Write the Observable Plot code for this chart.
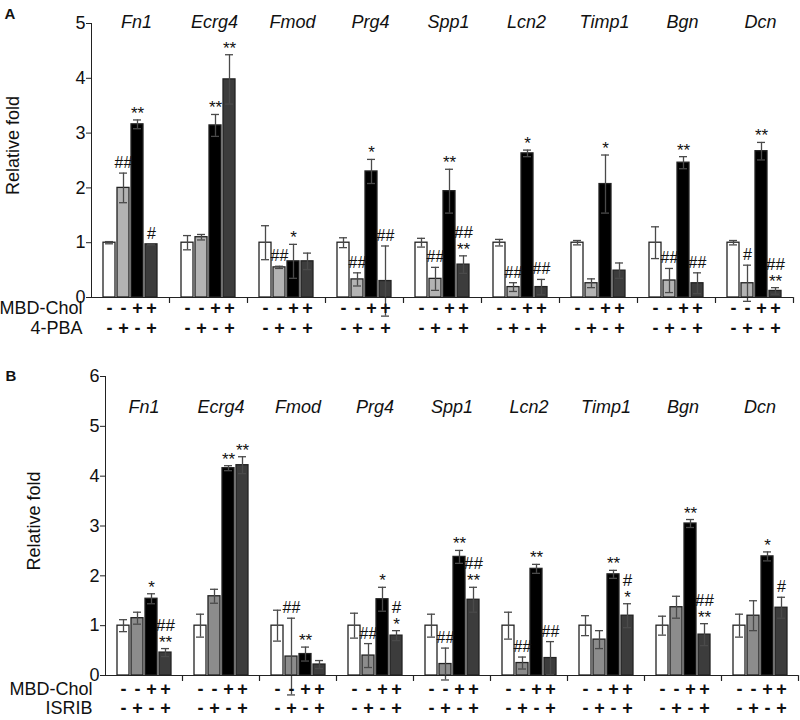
<!DOCTYPE html>
<html><head><meta charset="utf-8">
<script src="https://cdn.jsdelivr.net/npm/d3@7"></script>
<script src="https://cdn.jsdelivr.net/npm/@observablehq/plot@0.6"></script>
<style>
body{margin:0;background:#fff;font-family:"Liberation Sans",Arial,sans-serif;}
#chart svg{display:block}
</style></head><body><div id="chart"></div>
<script>
const genes = ["Fn1","Ecrg4","Fmod","Prg4","Spp1","Lcn2","Timp1","Bgn","Dcn"];
const treatments = [0, 1, 2, 3];
const rowMBD = ["-", "-", "+", "+"];
const rowDrug = ["-", "+", "-", "+"];

// Panel A (4-PBA)
const aMeans = [
  [1.0, 2.0, 3.16, 0.97],
  [1.0, 1.1, 3.14, 3.98],
  [1.0, 0.55, 0.66, 0.66],
  [1.0, 0.33, 2.3, 0.3],
  [1.0, 0.34, 1.94, 0.6],
  [1.0, 0.19, 2.63, 0.19],
  [1.0, 0.26, 2.07, 0.49],
  [1.0, 0.31, 2.46, 0.26],
  [1.0, 0.26, 2.67, 0.12]
];
const aErr = [
  [0.02, 0.27, 0.08, 0.01],
  [0.13, 0.05, 0.2, 0.45],
  [0.31, 0.02, 0.31, 0.15],
  [0.09, 0.12, 0.22, 0.64],
  [0.08, 0.21, 0.4, 0.16],
  [0.06, 0.08, 0.06, 0.14],
  [0.04, 0.08, 0.53, 0.14],
  [0.29, 0.22, 0.11, 0.19],
  [0.04, 0.33, 0.16, 0.06]
];
const aMarks = [
  ["", "##", "**", "#"],
  ["", "", "**", "**"],
  ["", "##", "*", ""],
  ["", "##", "*", "##"],
  ["", "##", "**", "##\n**"],
  ["", "##", "*", "##"],
  ["", "", "*", ""],
  ["", "##", "**", "##"],
  ["", "#", "**", "##\n**"]
];

// Panel B (ISRIB)
const bMeans = [
  [1.0, 1.15, 1.54, 0.46],
  [1.0, 1.59, 4.16, 4.22],
  [1.0, 0.38, 0.43, 0.22],
  [1.0, 0.4, 1.53, 0.8],
  [1.0, 0.23, 2.38, 1.52],
  [1.0, 0.25, 2.14, 0.35],
  [1.0, 0.72, 2.03, 1.2],
  [1.0, 1.37, 3.05, 0.82],
  [1.0, 1.2, 2.39, 1.36]
];
const bErr = [
  [0.12, 0.12, 0.1, 0.08],
  [0.23, 0.14, 0.05, 0.17],
  [0.31, 0.77, 0.14, 0.08],
  [0.25, 0.24, 0.24, 0.1],
  [0.23, 0.32, 0.13, 0.25],
  [0.27, 0.12, 0.09, 0.33],
  [0.2, 0.18, 0.08, 0.24],
  [0.19, 0.22, 0.08, 0.22],
  [0.23, 0.3, 0.09, 0.21]
];
const bMarks = [
  ["", "", "*", "##\n**"],
  ["", "", "**", "**"],
  ["", "##", "**", ""],
  ["", "##", "*", "#\n*"],
  ["", "##", "**", "##\n**"],
  ["", "##", "**", "##"],
  ["", "", "**", "#\n*"],
  ["", "", "**", "##\n**"],
  ["", "", "*", "#"]
];

const aFills = ["#ffffff", "#b3b3b3", "#000000", "#3c3c3c"];
const bFills = ["#ffffff", "#8c8c8c", "#000000", "#3c3c3c"];

function table(means, errs, marks) {
  return genes.flatMap((g, gi) => treatments.map(t => ({
    gene: g, t, mean: means[gi][t], err: errs[gi][t], mark: marks[gi][t],
    mbd: rowMBD[t], drug: rowDrug[t]
  })));
}

const tickShape = {draw(context, length) { context.moveTo(0, 0); context.lineTo(0, -length); }};

function panel(cfg) {
  const data = table(cfg.means, cfg.errs, cfg.marks);
  const first = () => genes[0];
  const starMarks = data.filter(d => d.mark && d.mark.endsWith("*"));
  const hashMarks = data.filter(d => d.mark && d.mark.endsWith("#"));
  return Plot.plot({
    width: 800, height: cfg.height,
    marginTop: cfg.mt, marginBottom: cfg.mb, marginLeft: cfg.ml, marginRight: cfg.mr,
    style: {fontFamily: "'Liberation Sans', Arial, sans-serif", fontSize: "18px", color: "#111", background: "white", overflow: "visible"},
    fx: {domain: genes, padding: 0, axis: null},
    x: {domain: treatments, paddingInner: 0.16, paddingOuter: 0.8, axis: null},
    y: {domain: [0, cfg.ymax], axis: null},
    color: {type: "ordinal", domain: treatments, range: cfg.fills},
    marks: [
      Plot.axisY({ticks: d3.range(cfg.ymax + 1), tickSize: 5, tickPadding: 1, tickFormat: d3.format("d"), label: null, fontSize: 18, stroke: "#222"}),
      Plot.frame({anchor: "left", facetAnchor: "left", stroke: "#222"}),
      Plot.barY(data, {fx: "gene", x: "t", y: "mean", fill: "t", stroke: "#222", strokeWidth: 1.3}),
      Plot.ruleX(data, {fx: "gene", x: "t", y1: d => d.mean - d.err, y2: d => d.mean + d.err, stroke: "#4a4a4a", strokeWidth: 1.3}),
      Plot.tickY(data, {fx: "gene", x: "t", y: d => d.mean + d.err, insetLeft: 2, insetRight: 2, stroke: "#4a4a4a", strokeWidth: 1.3}),
      Plot.tickY(data, {fx: "gene", x: "t", y: d => d.mean - d.err, insetLeft: 2, insetRight: 2, stroke: "#4a4a4a", strokeWidth: 1.3}),
      Plot.ruleY([0], {stroke: "#222", strokeWidth: 1.2}),
      Plot.vector([0], {frameAnchor: "bottom-right", length: 5, rotate: 180, anchor: "start", shape: tickShape, stroke: "#222", strokeWidth: 1.2}),
      Plot.text(starMarks, {fx: "gene", x: "t", y: d => d.mean + d.err, text: "mark", lineAnchor: "bottom", dy: -1, fontSize: 17, fill: "#111"}),
      Plot.text(hashMarks, {fx: "gene", x: "t", y: d => d.mean + d.err, text: "mark", lineAnchor: "bottom", dy: -5, fontSize: 16, fill: "#111"}),
      Plot.text(genes, {fx: d => d, text: d => d, frameAnchor: "top", dy: cfg.geneDy, dx: cfg.geneDx, fontStyle: "italic", fontSize: 18, fill: "#111"}),
      Plot.text(data, {fx: "gene", x: "t", text: "mbd", frameAnchor: "bottom", dy: cfg.r1, fontSize: 18, fontWeight: "bold", fill: "#111"}),
      Plot.text(data, {fx: "gene", x: "t", text: "drug", frameAnchor: "bottom", dy: cfg.r2, fontSize: 18, fontWeight: "bold", fill: "#111"}),
      Plot.text(["MBD-Chol"], {fx: first, frameAnchor: "bottom-left", textAnchor: "end", dx: cfg.rowDx, dy: cfg.r1, fontSize: 18, fill: "#111"}),
      Plot.text([cfg.drugLabel], {fx: first, frameAnchor: "bottom-left", textAnchor: "end", dx: cfg.rowDx, dy: cfg.r2, fontSize: 18, fill: "#111"}),
      Plot.text(["Relative fold"], {fx: first, frameAnchor: "left", textAnchor: "middle", rotate: -90, dx: cfg.labDx, dy: cfg.labDy, fontSize: 18, fill: "#111"}),
      Plot.text([cfg.letter], {fx: first, frameAnchor: "top-left", textAnchor: "start", dx: cfg.letDx, dy: cfg.letDy, fontSize: 15, fontWeight: "bold", fill: "#111"})
    ]
  });
}

const chart = document.getElementById("chart");
chart.appendChild(panel({
  means: aMeans, errs: aErr, marks: aMarks, fills: aFills, ymax: 5,
  height: 358, mt: 23, mb: 61, ml: 90, mr: 7,
  geneDy: -8, geneDx: 6, r1: 16, r2: 36, rowDx: -9, drugLabel: "4-PBA",
  labDx: -78, labDy: -15, letter: "A", letDx: -87, letDy: -15
}));
chart.appendChild(panel({
  means: bMeans, errs: bErr, marks: bMarks, fills: bFills, ymax: 6,
  height: 362, mt: 18, mb: 45, ml: 103, mr: 1,
  geneDy: 24, geneDx: 0, r1: 19, r2: 38, rowDx: -13, drugLabel: "ISRIB",
  labDx: -71, labDy: -5, letter: "B", letDx: -100, letDy: -6
}));
</script></body></html>
